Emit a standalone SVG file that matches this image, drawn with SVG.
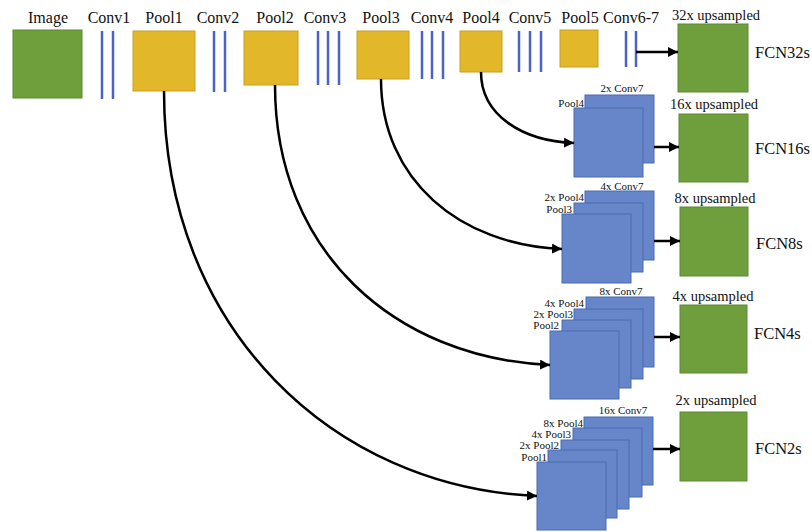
<svg xmlns="http://www.w3.org/2000/svg" width="812" height="532" viewBox="0 0 812 532" font-family="'Liberation Serif','DejaVu Serif','Noto Serif',serif">
<style>
text{font-family:'Liberation Serif','DejaVu Serif','Noto Serif',serif;fill:#111}
.t{font-size:16px;text-anchor:middle}
.u{font-size:14.5px;text-anchor:middle}
.f{font-size:16.5px}
.s{font-size:11px}
.e{text-anchor:end}
.m{text-anchor:middle}
.g{fill:#6f9f3c;stroke:#5b8a31;stroke-width:1}
.y{fill:#e3b72a;stroke:#c89f22;stroke-width:1}
.b{fill:#6686c9;stroke:#4a6bb2;stroke-width:1}
.c{stroke:#4b62c9;stroke-width:2.5}
.a{fill:none;stroke:#000;stroke-width:2.5;marker-end:url(#ah)}
</style>
<defs>
<marker id="ah" markerUnits="userSpaceOnUse" markerWidth="12" markerHeight="10" refX="10" refY="5" orient="auto">
<path d="M0,0 L10,5 L0,10 Z" fill="#000"/>
</marker>
</defs>
<rect width="812" height="532" fill="#fff"/>

<g id="image"><rect class="g" x="13" y="30" width="69" height="68"/><text class="t" x="48" y="23">Image</text></g>
<g id="conv1"><line class="c" x1="102" y1="31" x2="102" y2="99"/><line class="c" x1="113" y1="31" x2="113" y2="99"/><text class="t" x="109" y="23">Conv1</text></g>
<g id="pool1"><rect class="y" x="133" y="31" width="62" height="60"/><text class="t" x="164" y="23">Pool1</text></g>
<g id="conv2"><line class="c" x1="214" y1="31" x2="214" y2="92"/><line class="c" x1="225" y1="31" x2="225" y2="92"/><text class="t" x="218" y="23">Conv2</text></g>
<g id="pool2"><rect class="y" x="244" y="31" width="54" height="54"/><text class="t" x="275" y="23">Pool2</text></g>
<g id="conv3"><line class="c" x1="318" y1="31" x2="318" y2="85"/><line class="c" x1="328" y1="31" x2="328" y2="85"/><line class="c" x1="339" y1="31" x2="339" y2="85"/><text class="t" x="325" y="23">Conv3</text></g>
<g id="pool3"><rect class="y" x="357" y="31" width="52" height="48"/><text class="t" x="381" y="23">Pool3</text></g>
<g id="conv4"><line class="c" x1="422" y1="31" x2="422" y2="79"/><line class="c" x1="432" y1="31" x2="432" y2="79"/><line class="c" x1="443" y1="31" x2="443" y2="79"/><text class="t" x="432" y="23">Conv4</text></g>
<g id="pool4"><rect class="y" x="460" y="31" width="42" height="41"/><text class="t" x="481" y="23">Pool4</text></g>
<g id="conv5"><line class="c" x1="519" y1="31" x2="519" y2="72"/><line class="c" x1="530" y1="31" x2="530" y2="72"/><line class="c" x1="541" y1="31" x2="541" y2="72"/><text class="t" x="530" y="23">Conv5</text></g>
<g id="pool5"><rect class="y" x="560" y="30" width="38" height="37"/><text class="t" x="580" y="23">Pool5</text></g>
<g id="conv67"><line class="c" x1="626" y1="31" x2="626" y2="67"/><line class="c" x1="636" y1="31" x2="636" y2="67"/><text class="t" x="631" y="23">Conv6-7</text></g>

<g id="fcn32s"><rect class="g" x="678" y="24" width="70" height="68"/><text class="u" x="716" y="20">32x upsampled</text><text class="f" x="755" y="58">FCN32s</text></g>

<g id="stack16">
<rect class="b" x="585" y="95" width="69" height="68"/>
<rect class="b" x="574" y="108" width="69" height="69"/>
<text class="s m" x="622" y="92">2x Conv7</text>
<text class="s e" x="584" y="107">Pool4</text>
</g>
<g id="fcn16s"><rect class="g" x="679" y="114" width="69" height="68"/><text class="u" x="714" y="109">16x upsampled</text><text class="f" x="755" y="154">FCN16s</text></g>

<g id="stack8">
<rect class="b" x="585" y="191" width="69" height="69"/>
<rect class="b" x="574" y="203" width="69" height="69"/>
<rect class="b" x="562" y="214" width="69" height="69"/>
<text class="s m" x="622" y="190">4x Conv7</text>
<text class="s e" x="584" y="201">2x Pool4</text>
<text class="s e" x="572" y="213">Pool3</text>
</g>
<g id="fcn8s"><rect class="g" x="680" y="207" width="68" height="69"/><text class="u" x="715" y="203">8x upsampled</text><text class="f" x="756" y="249">FCN8s</text></g>

<g id="stack4">
<rect class="b" x="586" y="297" width="68" height="70"/>
<rect class="b" x="574" y="309" width="69" height="70"/>
<rect class="b" x="562" y="320" width="69" height="68"/>
<rect class="b" x="550" y="331" width="69" height="68"/>
<text class="s m" x="621" y="295">8x Conv7</text>
<text class="s e" x="584" y="307">4x Pool4</text>
<text class="s e" x="573" y="318">2x Pool3</text>
<text class="s e" x="559" y="329">Pool2</text>
</g>
<g id="fcn4s"><rect class="g" x="680" y="305" width="67" height="68"/><text class="u" x="713" y="301">4x upsampled</text><text class="f" x="754" y="339">FCN4s</text></g>

<g id="stack2">
<rect class="b" x="584" y="417" width="69" height="68"/>
<rect class="b" x="573" y="428" width="69" height="69"/>
<rect class="b" x="561" y="440" width="68" height="69"/>
<rect class="b" x="548" y="450" width="69" height="68"/>
<rect class="b" x="537" y="462" width="69" height="68"/>
<text class="s m" x="623" y="414">16x Conv7</text>
<text class="s e" x="583" y="427">8x Pool4</text>
<text class="s e" x="571" y="438">4x Pool3</text>
<text class="s e" x="559" y="449">2x Pool2</text>
<text class="s e" x="547" y="461">Pool1</text>
</g>
<g id="fcn2s"><rect class="g" x="680" y="412" width="67" height="69"/><text class="u" x="716" y="405">2x upsampled</text><text class="f" x="755" y="454">FCN2s</text></g>

<g id="connectors">
<line class="a" x1="636" y1="52" x2="678" y2="52"/>
<line class="a" x1="654" y1="147" x2="679" y2="147"/>
<line class="a" x1="654" y1="241" x2="680" y2="241"/>
<line class="a" x1="654" y1="337" x2="680" y2="337"/>
<line class="a" x1="653" y1="449" x2="680" y2="449"/>
<path class="a" d="M481,72 C481,115 522,141 574,143"/>
<path class="a" d="M381,79 C381,180 460,245 562,249"/>
<path class="a" d="M275,85 C275,252 395,358 550,365"/>
<path class="a" d="M164,91 C164,330 335,488 537,496"/>
</g>
</svg>
